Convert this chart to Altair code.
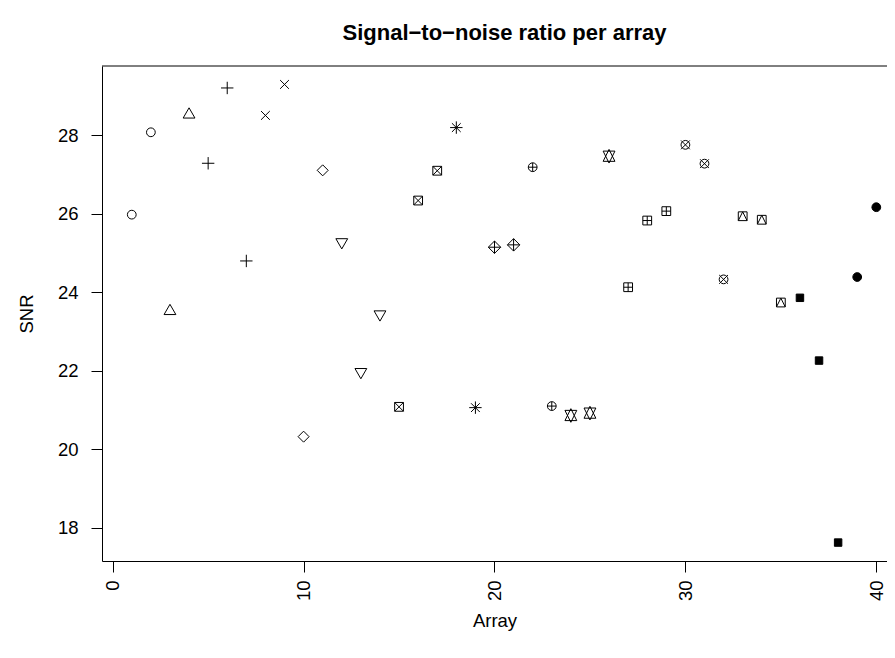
import altair as alt
import pandas as pd

# ---- data ----
arrays = list(range(1, 41))
snr = [25.98, 28.08, 23.52, 28.53, 27.29, 29.21, 24.80, 28.51, 29.30, 20.32,
       27.11, 25.28, 21.97, 23.44, 21.08, 26.34, 27.10, 28.20, 21.06, 25.15,
       25.21, 27.19, 21.10, 20.86, 20.92, 27.47, 24.13, 25.83, 26.07, 27.76,
       27.28, 24.33, 25.94, 25.85, 23.74, 23.86, 22.26, 17.62, 24.39, 26.17]
pch = [1, 1, 2, 2, 3, 3, 3, 4, 4, 5,
       5, 6, 6, 6, 7, 7, 7, 8, 8, 9,
       9, 10, 10, 11, 11, 11, 12, 12, 12, 13,
       13, 13, 14, 14, 14, 15, 15, 15, 16, 16]
x_ticks = [0, 10, 20, 30, 40]
y_ticks = [18, 20, 22, 24, 26, 28]

def circ(r=1.0):
    return f"M{r},0A{r},{r},0,1,1,{-r},0A{r},{r},0,1,1,{r},0Z"

SQ = "M-1,-1L1,-1L1,1L-1,1Z"
XL = "M-1,-1L1,1M-1,1L1,-1"
PL = "M-1,0L1,0M0,-1L0,1"
shape_paths = {
    "p1": circ(),
    "p2": "M0,-1.555L1.347,0.778L-1.347,0.778Z",
    "p3": "M-1.414,0L1.414,0M0,-1.414L0,1.414",
    "p4": XL,
    "p5": "M0,-1.253L1.253,0L0,1.253L-1.253,0Z",
    "p6": "M0,1.555L1.347,-0.778L-1.347,-0.778Z",
    "p7": SQ + XL,
    "p8": XL + "M-1.414,0L1.414,0M0,-1.414L0,1.414",
    "p9": "M0,-1.414L1.414,0L0,1.414L-1.414,0Z" + "M-1.414,0L1.414,0M0,-1.414L0,1.414",
    "p10": circ() + PL,
    "p11": "M0,-1.555L1.347,1.166L-1.347,1.166ZM0,1.555L1.347,-1.166L-1.347,-1.166Z",
    "p12": SQ + PL,
    "p13": circ() + XL,
    "p14": SQ + "M-1,1L0,-1L1,1",
    "p15": "M-0.85,-0.85L0.85,-0.85L0.85,0.85L-0.85,0.85Z",
    "p16": circ(),
}
names = list(shape_paths.keys())
paths = [shape_paths[n] for n in names]

df = pd.DataFrame({
    "array": arrays,
    "snr": snr,
    "pch": [f"p{p}" for p in pch],
    "solid": ["yes" if p in (15, 16) else "no" for p in pch],
})

W, H = 785, 495
FONT = "Liberation Sans"

x_enc = alt.X("array:Q",
              scale=alt.Scale(domain=[-0.56, 40.56], nice=False, zero=False),
              axis=alt.Axis(values=x_ticks, labelAngle=270, labelAlign="right",
                            labelBaseline="middle", labelPadding=8,
                            title="Array", titleY=59, titleBaseline="middle"))
y_enc = alt.Y("snr:Q",
              scale=alt.Scale(domain=[17.15, 29.77], nice=False, zero=False),
              axis=alt.Axis(values=y_ticks, labelPadding=13,
                            title="SNR", titleX=-76, titleY=H / 2,
                            titleAngle=270, titleBaseline="middle",
                            titleAlign="center"))
shape_enc = alt.Shape("pch:N", scale=alt.Scale(domain=names, range=paths), legend=None)

base = alt.Chart(df)
open_pts = base.transform_filter("datum.solid == 'no'").mark_point(
    filled=False, stroke="black", strokeWidth=1, opacity=1, size=77
).encode(x=x_enc, y=y_enc, shape=shape_enc)
solid_pts = base.transform_filter("datum.solid == 'yes'").mark_point(
    filled=True, fill="black", stroke="black", strokeWidth=1, opacity=1, size=77
).encode(x=x_enc, y=y_enc, shape=shape_enc)

top_line = alt.Chart(pd.DataFrame({"k": [0]})).mark_rule(
    color="black", strokeWidth=1
).encode(x=alt.value(0), x2=alt.value(W), y=alt.value(0))

chart = alt.layer(open_pts, solid_pts, top_line).properties(
    width=W, height=H,
    autosize=alt.AutoSizeParams(type="none"),
    padding={"left": 94, "top": 58, "right": 0, "bottom": 89},
    title=alt.TitleParams("Signal\u2212to\u2212noise ratio per array",
                          font=FONT, fontSize=22, fontWeight="bold",
                          color="black", anchor="middle", dx=10,
                          baseline="alphabetic", offset=4),
).configure_view(stroke=None).configure_axis(
    grid=False, domainColor="black", tickColor="black", labelColor="black",
    titleColor="black", labelFont=FONT, titleFont=FONT, labelFontSize=18.5,
    titleFontSize=18.5, titleFontWeight="normal", tickSize=11,
    domainWidth=1, tickWidth=1,
)

chart.save("out.html", embed_options={"renderer": "svg", "actions": False})
